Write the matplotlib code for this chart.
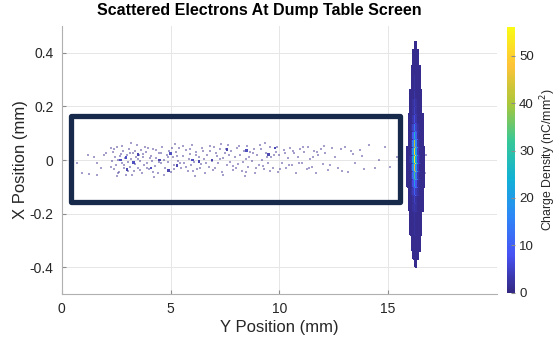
import numpy as np
import matplotlib.pyplot as plt
from matplotlib.colors import LinearSegmentedColormap, Normalize
from matplotlib.patches import Rectangle

plt.rcParams['font.family'] = ['Liberation Sans', 'DejaVu Sans']

# main beam spot, binned charge density (nC/mm^2)
# columns = Y bins, rows = X bins (bottom to top)
beam_y_edges = [15.885, 15.955, 16.025, 16.095, 16.165, 16.235, 16.305,
                16.375, 16.445, 16.515, 16.585, 16.655]
beam_x_lo = -0.40
beam_x_step = 0.03
beam_density = [
    [0, 0, 0, 0, 0, 1, 0, 0, 0, 0, 0],
    [0, 0, 0, 0, 1, 1, 1, 0, 0, 0, 0],
    [0, 0, 0, 1, 1, 1, 1, 1, 0, 0, 0],
    [0, 0, 0, 1, 1, 1, 1, 1, 0, 0, 0],
    [0, 0, 1, 1, 1, 2, 1, 1, 1, 0, 0],
    [0, 0, 1, 1, 1, 2, 1, 1, 1, 0, 0],
    [0, 0, 1, 1, 1, 2, 1, 1, 1, 0, 0],
    [0, 1, 1, 1, 2, 3, 2, 1, 1, 1, 0],
    [0, 1, 1, 1, 2, 5, 2, 1, 1, 1, 0],
    [0, 1, 1, 2, 4, 10, 4, 2, 1, 1, 0],
    [1, 1, 1, 2, 7, 20, 8, 2, 1, 1, 1],
    [1, 1, 1, 3, 12, 33, 13, 3, 1, 1, 1],
    [1, 1, 1, 4, 17, 46, 18, 4, 1, 1, 1],
    [1, 1, 2, 4, 21, 55, 22, 5, 2, 1, 1],
    [1, 1, 1, 4, 19, 52, 20, 4, 1, 1, 1],
    [0, 1, 1, 3, 15, 42, 16, 3, 1, 1, 0],
    [0, 1, 1, 2, 9, 26, 10, 2, 1, 1, 0],
    [0, 1, 1, 2, 5, 14, 5, 2, 1, 1, 0],
    [0, 1, 1, 1, 3, 7, 3, 1, 1, 1, 0],
    [0, 0, 1, 1, 2, 5, 2, 1, 1, 0, 0],
    [0, 0, 1, 1, 2, 4, 2, 1, 1, 0, 0],
    [0, 0, 1, 1, 1, 3, 1, 1, 1, 0, 0],
    [0, 0, 0, 1, 1, 2, 1, 1, 0, 0, 0],
    [0, 0, 0, 1, 1, 2, 1, 1, 0, 0, 0],
    [0, 0, 0, 1, 1, 1, 1, 1, 0, 0, 0],
    [0, 0, 0, 0, 1, 1, 1, 0, 0, 0, 0],
    [0, 0, 0, 0, 1, 1, 1, 0, 0, 0, 0],
    [0, 0, 0, 0, 0, 1, 0, 0, 0, 0, 0],
]

# single scattered hits (Y, X in mm)
hit_y = [0.7, 0.95, 1.2, 1.25, 1.5, 1.6, 1.6, 1.8, 1.95, 2.05,
         2.25, 2.3, 2.35, 2.4, 2.45, 2.5, 2.55, 2.6, 2.62, 2.7, 2.75, 2.8, 2.85, 2.9, 2.95,
         3.0, 3.05, 3.1, 3.15, 3.2, 3.25, 3.3, 3.35, 3.4, 3.45, 3.5, 3.55, 3.6, 3.65, 3.7,
         3.75, 3.8, 3.85, 3.9, 3.95,
         4.02, 4.1, 4.15, 4.2, 4.28, 4.35, 4.4, 4.48, 4.55, 4.6, 4.68, 4.75, 4.82, 4.9, 4.95,
         5.02, 5.1, 5.18, 5.25, 5.32, 5.4, 5.48, 5.55, 5.62, 5.7, 5.78, 5.85, 5.9, 5.95, 6.0,
         6.08, 6.15, 6.22, 6.3, 6.38, 6.45, 6.52, 6.6, 6.68, 6.75, 6.82, 6.9, 6.98, 7.05,
         7.12, 7.2, 7.28, 7.35, 7.42, 7.5, 7.58, 7.65, 7.72, 7.8, 7.88, 7.95,
         8.05, 8.12, 8.2, 8.28, 8.36, 8.45, 8.5, 8.58, 8.66, 8.75, 8.82, 8.9, 8.98, 9.06,
         9.14, 9.22, 9.3, 9.38, 9.46, 9.55, 9.62, 9.7, 9.78, 9.85, 9.92, 10.0, 10.1, 10.2,
         10.3, 10.4,
         10.5, 10.6, 10.68, 10.78, 10.86, 10.95, 11.05, 11.15, 11.25, 11.32, 11.42, 11.5,
         11.6, 11.7, 11.8, 11.9, 12.0, 12.1, 12.25, 12.4,
         12.55, 12.7, 12.85, 13.0, 13.15, 13.3, 13.5, 13.7, 13.9, 14.1, 14.4, 14.6, 14.85,
         15.1, 15.4,
         16.25, 16.27, 16.28, 16.7, 16.75,
         2.28, 2.42, 2.58, 2.66, 2.78, 2.88,
         3.02, 3.12, 3.22, 3.38, 3.48, 3.58, 3.72, 3.82, 3.92,
         4.05, 4.18, 4.32, 4.45, 4.58, 4.72, 4.86,
         5.05, 5.15, 5.28, 5.45, 5.58, 5.72, 5.88,
         6.02, 6.18, 6.35, 6.5, 6.65, 6.8, 6.95,
         7.08, 7.25, 7.4, 7.55, 7.7, 7.85,
         8.0, 8.15, 8.32, 8.48, 8.62, 8.8, 8.95,
         9.1, 9.25, 9.42, 9.58, 9.75, 9.9,
         10.05, 10.25, 10.45, 10.65, 10.9,
         11.1, 11.35, 11.55, 11.75,
         12.05, 12.35,
         12.9, 13.4, 13.8,
         2.52, 3.18, 4.25, 5.2, 6.1, 7.3, 8.4, 9.35]
hit_x = [-0.01, -0.049, 0.018, -0.053, 0.01, -0.012, -0.056, -0.028, 0.02, 0.028,
         0.045, -0.005, 0.03, -0.035, 0.012, -0.02, 0.05, 0.0, -0.045, 0.022, -0.012, 0.035,
         -0.03, 0.008, -0.055,
         0.018, -0.008, 0.042, -0.025, 0.005, 0.028, -0.04, -0.015, 0.012, 0.055, -0.03,
         0.02, -0.005, 0.038, -0.048,
         0.01, -0.02, 0.03, -0.01, 0.045,
         -0.035, 0.015, -0.005, 0.04, -0.022, 0.008, -0.05, 0.025, -0.012, 0.05, 0.0, -0.03,
         0.018, -0.008, 0.035,
         -0.045, 0.01, -0.02, 0.03, -0.002, 0.046, -0.028, 0.015, -0.01, 0.038, -0.04, 0.005,
         0.022, -0.018, 0.055,
         -0.006, 0.03, -0.035, 0.012, -0.015, 0.045, 0.002, -0.05, 0.02, -0.025, 0.035,
         -0.004, 0.05, -0.03,
         0.015, -0.012, 0.04, -0.045, 0.008, 0.028, -0.02, 0.055, -0.008, 0.033, -0.038, 0.01,
         0.045, -0.015, 0.02, -0.042, 0.035, 0.005, 0.052, -0.025, 0.03, -0.005, 0.042, -0.05,
         0.018, -0.018,
         0.04, 0.0, -0.035, 0.025, -0.01, 0.05, 0.012, -0.028, 0.045, 0.03, -0.045, 0.02,
         -0.012, 0.038,
         -0.03, 0.008,
         0.045, -0.02, 0.025, -0.048, 0.012, 0.04, -0.01, 0.03, -0.035, 0.05, 0.002, -0.025,
         0.035, -0.05, 0.018, 0.042, -0.015, 0.028, -0.038, 0.045,
         0.01, -0.028, 0.04, 0.05, -0.045, 0.035, -0.012, 0.038, -0.035, 0.055, -0.03, 0.0,
         0.05, -0.025, 0.01,
         -0.39, -0.40, 0.43, -0.05, 0.02,
         -0.025, 0.04, -0.05, 0.015, 0.052, -0.018,
         -0.04, 0.028, -0.055, 0.035, 0.005, -0.038, 0.022, 0.048, -0.028,
         0.008, -0.045, 0.038, -0.008, 0.025, -0.055, 0.01,
         0.045, -0.032, 0.015, -0.012, 0.052, -0.025, 0.04,
         -0.042, 0.018, -0.028, 0.035, -0.012, 0.052, -0.038,
         0.025, 0.002, -0.055, 0.042, 0.018, -0.022,
         -0.03, 0.052, -0.008, -0.045, 0.012, 0.028, -0.03,
         0.055, -0.022, 0.01, -0.04, 0.018, 0.05,
         -0.035, 0.025, -0.02, 0.035, -0.01,
         0.048, -0.028, 0.012, 0.03,
         0.052, -0.02,
         -0.04, 0.022, 0.015,
         -0.06, 0.062, -0.062, 0.06, -0.06, 0.06, -0.06, 0.065]
hit_density = 1.0

# denser clumps among the scattered electrons
clump_y = [2.7, 2.95, 3.0, 3.3, 3.5, 4.1, 4.5, 4.9, 5.0, 5.3, 6.0, 6.3, 6.9, 7.6, 8.5, 9.5, 9.8]
clump_x = [0.0, 0.01, -0.035, -0.01, 0.02, -0.03, 0.0, -0.04, 0.025, -0.02, 0.0, -0.005,
           0.0, 0.04, 0.035, 0.02, 0.045]
clump_density = [4, 5, 3, 4, 3, 4, 3, 3, 4, 3, 4, 3, 3, 3, 4, 3, 4]

# parula-like colour map
parula = LinearSegmentedColormap.from_list('parula', [
    (0.000, (0.200, 0.155, 0.505)),
    (0.143, (0.281, 0.323, 0.958)),
    (0.286, (0.179, 0.529, 0.968)),
    (0.429, (0.069, 0.695, 0.839)),
    (0.571, (0.216, 0.784, 0.592)),
    (0.714, (0.672, 0.779, 0.223)),
    (0.857, (0.997, 0.766, 0.220)),
    (1.000, (0.977, 0.984, 0.081)),
])
norm = Normalize(vmin=0, vmax=56)

fig = plt.figure(figsize=(5.57, 3.39), dpi=100)
ax = fig.add_axes([0.111, 0.133, 0.781, 0.79])
cax = fig.add_axes([0.910, 0.136, 0.0144, 0.784])

ax.set_axisbelow(True)
ax.grid(True, color='#e6e6e6', linewidth=0.7)

dens = np.ma.masked_less_equal(np.array(beam_density, dtype=float), 0)
x_edges = beam_x_lo + beam_x_step * np.arange(dens.shape[0] + 1)
ax.pcolormesh(beam_y_edges, x_edges, dens, cmap=parula, norm=norm,
              edgecolors='face', linewidth=0.3, zorder=2)

ax.scatter(hit_y, hit_x, s=1.6, marker='s', c=[parula(norm(hit_density))],
           linewidths=0, alpha=0.45, zorder=3)
ax.scatter(clump_y, clump_x, s=3.5, marker='s', c=clump_density, cmap=parula, norm=norm,
           linewidths=0, alpha=0.9, zorder=3)

ax.add_patch(Rectangle((0.44, -0.157), 15.11, 0.322, fill=False, edgecolor='#172a4c',
                       linewidth=3.8, joinstyle='round', zorder=4))

ax.set_xlim(0, 20)
ax.set_ylim(-0.5, 0.5)
ax.set_xticks([0, 5, 10, 15])
ax.set_yticks([-0.4, -0.2, 0, 0.2, 0.4])
ax.set_yticklabels(['-0.4', '-0.2', '0', '0.2', '0.4'])
ax.tick_params(direction='in', length=3, labelsize=10, colors='#8c8c8c',
               labelcolor='#262626', pad=6)
for side in ['top', 'right']:
    ax.spines[side].set_visible(False)
for side in ['left', 'bottom']:
    ax.spines[side].set_color('#b0b0b0')
    ax.spines[side].set_linewidth(0.8)

ax.set_xlabel('Y Position (mm)', fontsize=12, color='#262626', labelpad=3)
ax.set_ylabel('X Position (mm)', fontsize=12, color='#262626', labelpad=1)
ax.set_title('Scattered Electrons At Dump Table Screen', fontsize=11.5,
             fontweight='bold', pad=8, x=0.455)

cb = fig.colorbar(plt.cm.ScalarMappable(norm=norm, cmap=parula), cax=cax)
cb.set_ticks([0, 10, 20, 30, 40, 50])
cb.outline.set_visible(False)
cax.tick_params(direction='in', length=3, labelsize=9.5, colors='#8c8c8c',
                labelcolor='#262626', pad=3)
cb.set_label('Charge Density (nC/mm$^2$)', fontsize=8.8, color='#262626', labelpad=3)

fig.savefig('out.png', dpi=100)
